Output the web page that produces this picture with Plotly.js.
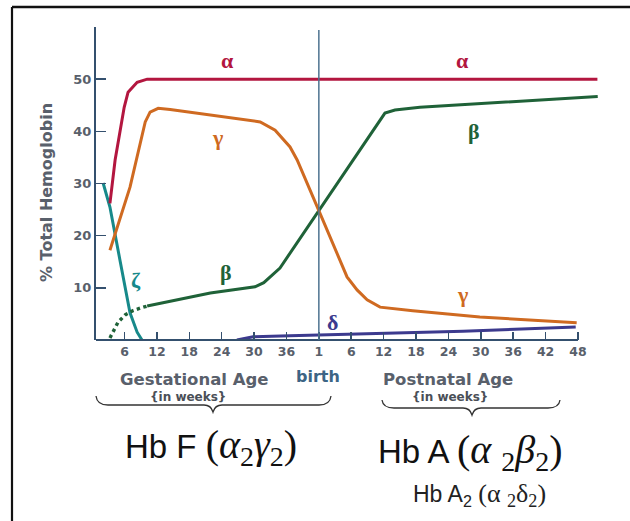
<!DOCTYPE html>
<html>
<head>
<meta charset="utf-8">
<script src="https://cdn.plot.ly/plotly-3.0.1.min.js"></script>
<style>
  html, body { margin: 0; padding: 0; background: #ffffff; }
  #chart { width: 630px; height: 521px; }
</style>
</head>
<body>
<div id="chart"></div>
<script>
// Age axis: one unit per tick step (tick 1 = 6 gestational weeks, tick 7 = birth)
const tickLabels = ['6', '12', '18', '24', '30', '36', '1', '6', '12', '18', '24', '30', '36', '42', '48'];
const tickIndex = [1, 2, 3, 4, 5, 6, 7, 8, 9, 10, 11, 12, 13, 14, 15];
const birthIndex = 7;
const yTicks = [10, 20, 30, 40, 50];

// % of total hemoglobin chains
const alphaX = [0.55, 0.71, 0.99, 1.11, 1.39, 1.7, 15.6];
const alphaY = [26.2, 34.5, 44.6, 47.5, 49.4, 50, 50];

const gammaX = [0.55, 1.17, 1.64, 1.79, 2.04, 2.41, 5.19, 5.65, 6.11, 6.33, 7.0, 7.87, 8.18, 8.49, 8.89, 9.9, 11.97, 14.96];
const gammaY = [17.2, 29.3, 41.8, 43.7, 44.4, 44.2, 41.8, 40.2, 37.0, 34.5, 24.8, 12.1, 9.6, 7.7, 6.3, 5.6, 4.4, 3.3];

const betaEarlyX = [0.55, 0.8, 1.02, 1.25, 1.48, 1.7];
const betaEarlyY = [0.4, 3.4, 4.8, 5.6, 6.1, 6.5];

const betaX = [1.7, 3.65, 5.03, 5.3, 5.8, 7.0, 9.04, 9.35, 10.12, 15.61];
const betaY = [6.5, 9.0, 10.2, 11.0, 13.8, 24.8, 43.5, 44.1, 44.6, 46.7];

const zetaX = [0.34, 0.55, 0.86, 1.17, 1.39, 1.54];
const zetaY = [30.1, 25.5, 15.3, 5.2, 1.5, 0];

const deltaX = [4.47, 4.97, 6.1, 11.45, 14.93];
const deltaY = [0, 0.6, 0.8, 1.7, 2.5];

// Colours of the globin chains
const C = {
  alpha: '#b3163f',
  gamma: '#cf6a21',
  beta: '#1f6238',
  zeta: '#17898a',
  delta: '#3c3a8e',
  axis: '#34506e',
  birth: '#4d7390',
  label: '#59606b'
};

const W = 630, H = 521;
const M = { l: 96, r: 30, t: 27, b: 181 };
const PW = W - M.l - M.r, PH = H - M.t - M.b;
const pX = px => (px - M.l) / PW;
const pY = py => (H - M.b - py) / PH;

function line(x, y, color, dash) {
  return {
    x: x, y: y, type: 'scatter', mode: 'lines', hoverinfo: 'skip',
    line: { color: color, width: dash ? 3.4 : 3, dash: dash || 'solid', shape: 'linear' }
  };
}

const traces = [
  line(deltaX, deltaY, C.delta),
  line(zetaX, zetaY, C.zeta),
  line(betaEarlyX, betaEarlyY, C.beta, 'dot'),
  line(betaX, betaY, C.beta),
  line(gammaX, gammaY, C.gamma),
  line(alphaX, alphaY, C.alpha)
];

function greek(t, x, y, color) {
  return {
    text: t, x: x, y: y, xref: 'x', yref: 'y', showarrow: false,
    font: { family: 'Liberation Serif, DejaVu Serif, serif', size: 22, color: color, weight: 'bold' },
    xanchor: 'center', yanchor: 'middle'
  };
}

function note(t, px, py, size, color, family, weight) {
  return {
    text: t, x: pX(px), y: pY(py), xref: 'paper', yref: 'paper', showarrow: false,
    xanchor: 'center', yanchor: 'middle',
    font: { family: family || 'DejaVu Sans, sans-serif', size: size, color: color, weight: weight || 'normal' }
  };
}

const serifBig = "font-family:'Liberation Serif',serif;font-size:40px";
const serifSmall = "font-family:'Liberation Serif',serif;font-size:26px";
const sans = 'Liberation Sans, Arial, sans-serif';
const annotations = [
  greek('α', 4.19, 53.6, C.alpha),
  greek('α', 11.45, 53.6, C.alpha),
  greek('γ', 3.86, 38.9, C.gamma),
  greek('γ', 11.45, 8.8, C.gamma),
  greek('β', 4.13, 13.0, C.beta),
  greek('β', 11.79, 40.0, C.beta),
  greek('ζ', 1.36, 11.5, C.zeta),
  greek('δ', 7.41, 3.4, C.delta),
  note('Gestational Age', 194, 380, 16.5, C.label, null, 'bold'),
  note('{in weeks}', 188, 397, 12, '#4a4f57', null, 'bold'),
  note('birth', 318, 376, 16, '#3d6585', null, 'bold'),
  note('Postnatal Age', 448, 380, 16.5, C.label, null, 'bold'),
  note('{in weeks}', 450, 397, 12, '#4a4f57', null, 'bold'),
  note('Hb F <span style="' + serifBig + '">(<i>α</i><sub>2</sub><i>γ</i><sub>2</sub>)</span>', 211, 447, 33, '#111111', sans),
  note('Hb A <span style="' + serifBig + '">(<i>α</i> <sub>2</sub><i>β</i><sub>2</sub>)</span>', 470, 452, 33, '#111111', sans),
  note('Hb A<sub>2</sub> <span style="' + serifSmall + '">(α <sub>2</sub>δ<sub>2</sub>)</span>', 479, 495, 23, '#222222', sans),
  Object.assign(note('% Total Hemoglobin', 46, 193, 16, C.label, null, 'bold'), { textangle: -90 })
];

function brace(x0, x1, mid, top, bottom, tip) {
  return 'M ' + pX(x0) + ',' + pY(top) +
    ' Q ' + pX(x0 + 1) + ',' + pY(bottom) + ' ' + pX(x0 + 12) + ',' + pY(bottom) +
    ' L ' + pX(mid - 9) + ',' + pY(bottom) +
    ' Q ' + pX(mid - 2) + ',' + pY(bottom) + ' ' + pX(mid) + ',' + pY(tip) +
    ' Q ' + pX(mid + 2) + ',' + pY(bottom) + ' ' + pX(mid + 9) + ',' + pY(bottom) +
    ' L ' + pX(x1 - 12) + ',' + pY(bottom) +
    ' Q ' + pX(x1 - 1) + ',' + pY(bottom) + ' ' + pX(x1) + ',' + pY(top);
}

const shapes = [
  // x axis line, ending at the last tick
  { type: 'line', xref: 'x', yref: 'paper', x0: 0.12, x1: 15, y0: 0, y1: 0, line: { color: C.axis, width: 2 } },
  // birth marker
  { type: 'line', xref: 'x', yref: 'paper', x0: birthIndex, x1: birthIndex, y0: 0, y1: pY(30), line: { color: C.birth, width: 1.5 } },
  // braces under the age ranges
  { type: 'path', xref: 'paper', yref: 'paper', path: brace(96, 331, 213, 396, 405, 412), line: { color: '#333333', width: 1.3 } },
  { type: 'path', xref: 'paper', yref: 'paper', path: brace(382, 560, 472, 400, 408, 415), line: { color: '#333333', width: 1.3 } },
  // frame
  { type: 'line', xref: 'paper', yref: 'paper', x0: pX(12), x1: pX(640), y0: pY(7), y1: pY(7), line: { color: '#111111', width: 2.5 } },
  { type: 'line', xref: 'paper', yref: 'paper', x0: pX(12), x1: pX(12), y0: pY(7), y1: pY(530), line: { color: '#111111', width: 2.2 } }
];

const layout = {
  width: W, height: H,
  margin: { l: M.l, r: M.r, t: M.t, b: M.b, pad: 0 },
  paper_bgcolor: '#ffffff', plot_bgcolor: '#ffffff',
  showlegend: false,
  xaxis: {
    range: [0.12, 15.68], showline: false, showgrid: false, zeroline: false,
    tickmode: 'array', tickvals: tickIndex, ticktext: tickLabels,
    ticks: 'inside', ticklen: 8, tickwidth: 1.5, tickcolor: C.axis,
    ticklabelstandoff: 2,
    tickfont: { family: 'DejaVu Sans, sans-serif', size: 12.5, color: C.label, weight: 'bold' }
  },
  yaxis: {
    range: [0, 60], showline: true, linecolor: C.axis, linewidth: 2,
    showgrid: false, zeroline: false,
    tickmode: 'array', tickvals: yTicks,
    ticks: 'inside', ticklen: 10, tickwidth: 1.5, tickcolor: C.axis,
    tickfont: { family: 'DejaVu Sans, sans-serif', size: 13, color: C.label, weight: 'bold' }
  },
  annotations: annotations,
  shapes: shapes
};

Plotly.newPlot('chart', traces, layout, { staticPlot: true, displayModeBar: false });
</script>
</body>
</html>
